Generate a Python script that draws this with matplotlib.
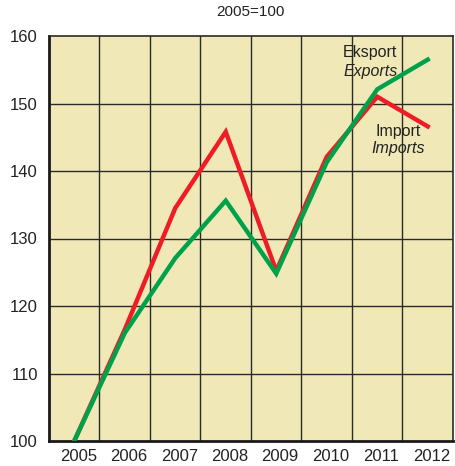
import matplotlib
matplotlib.use("Agg")
import matplotlib.pyplot as plt
import matplotlib.transforms as mtransforms
from matplotlib import font_manager

years = ["2005", "2006", "2007", "2008", "2009", "2010", "2011", "2012"]
exports = [100, 116.0, 127.1, 135.6, 124.8, 141.3, 152.1, 156.5]
imports = [100, 116.5, 134.5, 145.8, 125.2, 142.1, 151.0, 146.6]
y_ticks = [100, 110, 120, 130, 140, 150, 160]

names = {f.name for f in font_manager.fontManager.ttflist}
fam = "Liberation Sans Narrow" if "Liberation Sans Narrow" in names else "Liberation Sans"
plt.rcParams["font.family"] = [fam, "DejaVu Sans"]

fig = plt.figure(figsize=(4.56, 4.66), dpi=100)
ax = fig.add_axes([49/456, 25/466, 404/456, 405/466])
ax.set_facecolor("#F0E9B7")

x = list(range(len(years)))
ax.plot(x, imports, color="#EE1D25", lw=3.2, solid_joinstyle="miter", zorder=3)
ax.plot(x, exports, color="#00A14B", lw=3.2, solid_joinstyle="miter", zorder=4)

ax.set_xlim(-0.5, len(years) - 0.5)
ax.set_ylim(100, 160)
for b in range(1, len(years)):
    ax.axvline(b - 0.5, color="#2a2a2a", lw=1.0, zorder=1)
for yv in y_ticks[1:-1]:
    ax.axhline(yv, color="#2a2a2a", lw=1.0, zorder=1)

ax.set_xticks(x)
ax.set_xticklabels(years, fontsize=12)
ax.set_yticks(y_ticks)
ax.set_yticklabels([str(v) for v in y_ticks], fontsize=12)
ax.tick_params(axis="both", length=0, pad=8, colors="#222222")
ax.tick_params(axis="x", pad=6)
offset = mtransforms.ScaledTranslation(4/100, 0, fig.dpi_scale_trans)
for lbl in ax.get_xticklabels():
    lbl.set_transform(lbl.get_transform() + offset)
for s in ["left", "bottom"]:
    ax.spines[s].set_linewidth(2.0)
    ax.spines[s].set_color("#1a1a1a")
for s in ["top", "right"]:
    ax.spines[s].set_linewidth(1.2)
    ax.spines[s].set_color("#2a2a2a")

ax.text(5.86, 157.5, "Eksport", fontsize=11.5, ha="center", va="center", color="#222222", zorder=5)
ax.text(5.86, 154.7, "Exports", fontsize=11.5, ha="center", va="center", style="italic", color="#222222", zorder=5)
ax.text(6.41, 145.9, "Import", fontsize=11.5, ha="center", va="center", color="#222222", zorder=5)
ax.text(6.41, 143.3, "Imports", fontsize=11.5, ha="center", va="center", style="italic", color="#222222", zorder=5)

fig.text(250/456, 1 - 12/466, "2005=100", fontsize=11, ha="center", va="center", color="#222222")

fig.savefig("out.png", dpi=100)
